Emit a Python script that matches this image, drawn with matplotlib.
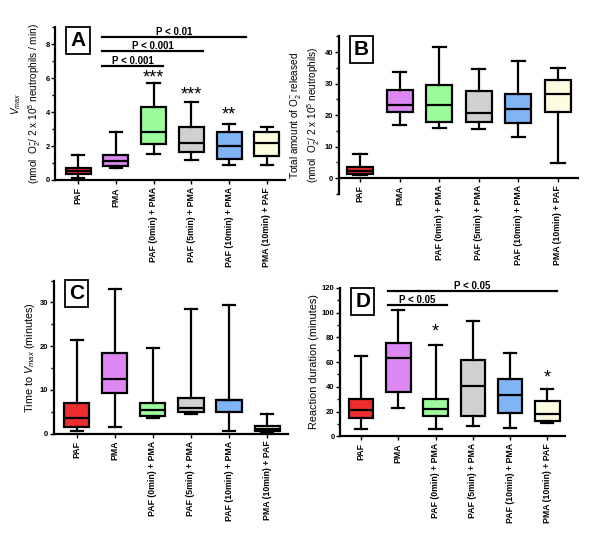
import matplotlib
matplotlib.use("Agg")
import matplotlib.pyplot as plt
from matplotlib.ticker import MultipleLocator

plt.rcParams["font.family"] = ["Liberation Sans", "DejaVu Sans"]
plt.rcParams["mathtext.fontset"] = "custom"
plt.rcParams["mathtext.rm"] = "Liberation Sans"
plt.rcParams["mathtext.it"] = "Liberation Sans:italic"
plt.rcParams["mathtext.bf"] = "Liberation Sans:bold"

GROUPS = ["PAF", "PMA", "PAF (0min) + PMA", "PAF (5min) + PMA",
          "PAF (10min) + PMA", "PMA (10min) + PAF"]
COLORS = ["#ee2e2e", "#dd88f2", "#9cfc9c", "#d0d0d0", "#80b4f4", "#fffde0"]

# (whislo, q1, med, q3, whishi) per group
VMAX = [(0.1, 0.35, 0.55, 0.7, 1.5), (0.7, 0.8, 1.1, 1.45, 2.8),
        (1.55, 2.1, 2.8, 4.3, 5.7), (1.15, 1.65, 2.2, 3.1, 4.6),
        (0.9, 1.25, 2.0, 2.85, 3.3), (0.9, 1.4, 2.2, 2.8, 3.1)]
TOTAL = [(1.0, 1.3, 2.3, 3.5, 7.6), (16.8, 21.0, 23.2, 28.0, 33.8),
         (16.0, 17.8, 23.3, 29.7, 41.5), (15.7, 17.8, 20.8, 27.8, 34.5),
         (13.0, 17.5, 22.0, 26.8, 37.2), (4.7, 21.0, 26.7, 31.2, 35.0)]
TIME = [(0.5, 1.6, 3.5, 7.0, 21.5), (1.5, 9.3, 12.4, 18.5, 33.0),
        (3.6, 4.0, 5.5, 7.0, 19.5), (4.5, 4.9, 5.9, 8.1, 28.5),
        (0.5, 4.9, 7.7, 7.8, 29.5), (0.3, 0.55, 1.1, 1.8, 4.5)]
DURATION = [(6.0, 14.5, 21.0, 30.0, 65.0), (23.0, 35.5, 63.0, 75.5, 102.0),
            (6.0, 16.5, 22.0, 30.5, 74.0), (8.5, 16.5, 40.5, 61.5, 93.5),
            (6.5, 19.0, 33.0, 46.5, 67.5), (10.5, 12.0, 18.0, 28.5, 38.0)]

# significance: (x start, x end, y, label)
A_BARS = [(0.63, 2.25, 6.7, "P < 0.001"), (0.63, 3.32, 7.6, "P < 0.001"),
          (0.63, 4.45, 8.45, "P < 0.01")]
A_STARS = [(2, 6.0, "***"), (3, 5.0, "***"), (4, 3.8, "**")]
D_BARS = [(0.72, 2.3, 106, "P < 0.05"), (0.72, 5.25, 117.5, "P < 0.05")]
D_STARS = [(2, 84, "*"), (5, 47, "*")]

LW = 1.6


def boxplot(ax, data, xlim, ylim, major, minor, width=0.66, yticks=None,
            zero_axis=False):
    stats = [dict(whislo=d[0], q1=d[1], med=d[2], q3=d[3], whishi=d[4], fliers=[])
             for d in data]
    bp = ax.bxp(stats, positions=range(len(stats)), widths=width, patch_artist=True,
                showfliers=False, capwidths=width * 0.5,
                boxprops=dict(linewidth=LW, edgecolor="black"),
                medianprops=dict(color="black", linewidth=LW),
                whiskerprops=dict(color="black", linewidth=LW),
                capprops=dict(color="black", linewidth=LW))
    for patch, c in zip(bp["boxes"], COLORS):
        patch.set_facecolor(c)
    if zero_axis:
        ax.spines["bottom"].set_position(("data", 0))
    ax.set_xlim(*xlim)
    ax.set_ylim(*ylim)
    ax.yaxis.set_major_locator(MultipleLocator(major))
    ax.yaxis.set_minor_locator(MultipleLocator(minor))
    if yticks is not None:
        ax.set_yticks(yticks)
    ax.set_xticks(range(len(GROUPS)))
    ax.set_xticklabels(GROUPS, rotation=90, fontsize=6.3, fontweight="bold")
    for lab in ax.get_yticklabels():
        lab.set_fontsize(5.5)
        lab.set_fontweight("bold")
    ax.tick_params(axis="y", which="major", length=3, width=1, pad=1)
    ax.tick_params(axis="y", which="minor", length=2, width=1)
    ax.tick_params(axis="x", length=3, width=1, pad=2)
    for s in ["top", "right"]:
        ax.spines[s].set_visible(False)
    for s in ["left", "bottom"]:
        ax.spines[s].set_linewidth(LW)


def letter(ax, txt, x, y):
    ax.text(x, y, txt, transform=ax.transAxes, fontsize=15, fontweight="bold",
            ha="center", va="center",
            bbox=dict(boxstyle="square,pad=0.2", fc="white", ec="black", lw=1.3))


def brackets(ax, bars):
    for x0, x1, y, lab in bars:
        ax.plot([x0, x1], [y, y], color="black", lw=LW, clip_on=False)
        ax.text((x0 + x1) / 2, y, lab, ha="center", va="bottom", fontsize=7,
                fontweight="bold")


def stars(ax, items):
    for x, y, s in items:
        ax.text(x, y, s, ha="center", va="center", fontsize=13)


fig = plt.figure(figsize=(6, 5.34), dpi=100)
axA = fig.add_axes([0.092, 0.663, 0.383, 0.286])
axB = fig.add_axes([0.565, 0.637, 0.398, 0.295])
axC = fig.add_axes([0.090, 0.188, 0.390, 0.2865])
axD = fig.add_axes([0.567, 0.183, 0.375, 0.278])

boxplot(axA, VMAX, (-0.61, 5.48), (0, 9), 2, 1)
axA.set_ylabel("$\\mathit{V}_{max}$\n(nmol  O$_2^{-}$/ 2 x 10$^5$ neutrophils / min)",
               fontsize=7.2, labelpad=2)
brackets(axA, A_BARS)
stars(axA, A_STARS)
letter(axA, "A", 0.1, 0.915)

boxplot(axB, TOTAL, (-0.53, 5.5), (-5, 45), 10, 5,
        yticks=[0, 10, 20, 30, 40], zero_axis=True)
axB.set_ylabel("Total amount of O$_2^{-}$ released\n(nmol  O$_2^{-}$/ 2 x 10$^5$ neutrophils)",
               fontsize=7.2, labelpad=2)
letter(axB, "B", 0.095, 0.915)

boxplot(axC, TIME, (-0.6, 5.55), (0, 35), 10, 5)
axC.set_ylabel("Time to $\\mathit{V}_{max}$ (minutes)", fontsize=7.8, labelpad=2)
letter(axC, "C", 0.095, 0.915)

boxplot(axD, DURATION, (-0.56, 5.48), (0, 120), 20, 10)
axD.set_ylabel("Reaction duration (minutes)", fontsize=7.8, labelpad=2)
brackets(axD, D_BARS)
stars(axD, D_STARS)
letter(axD, "D", 0.1, 0.91)

fig.savefig("out.png", dpi=100)
